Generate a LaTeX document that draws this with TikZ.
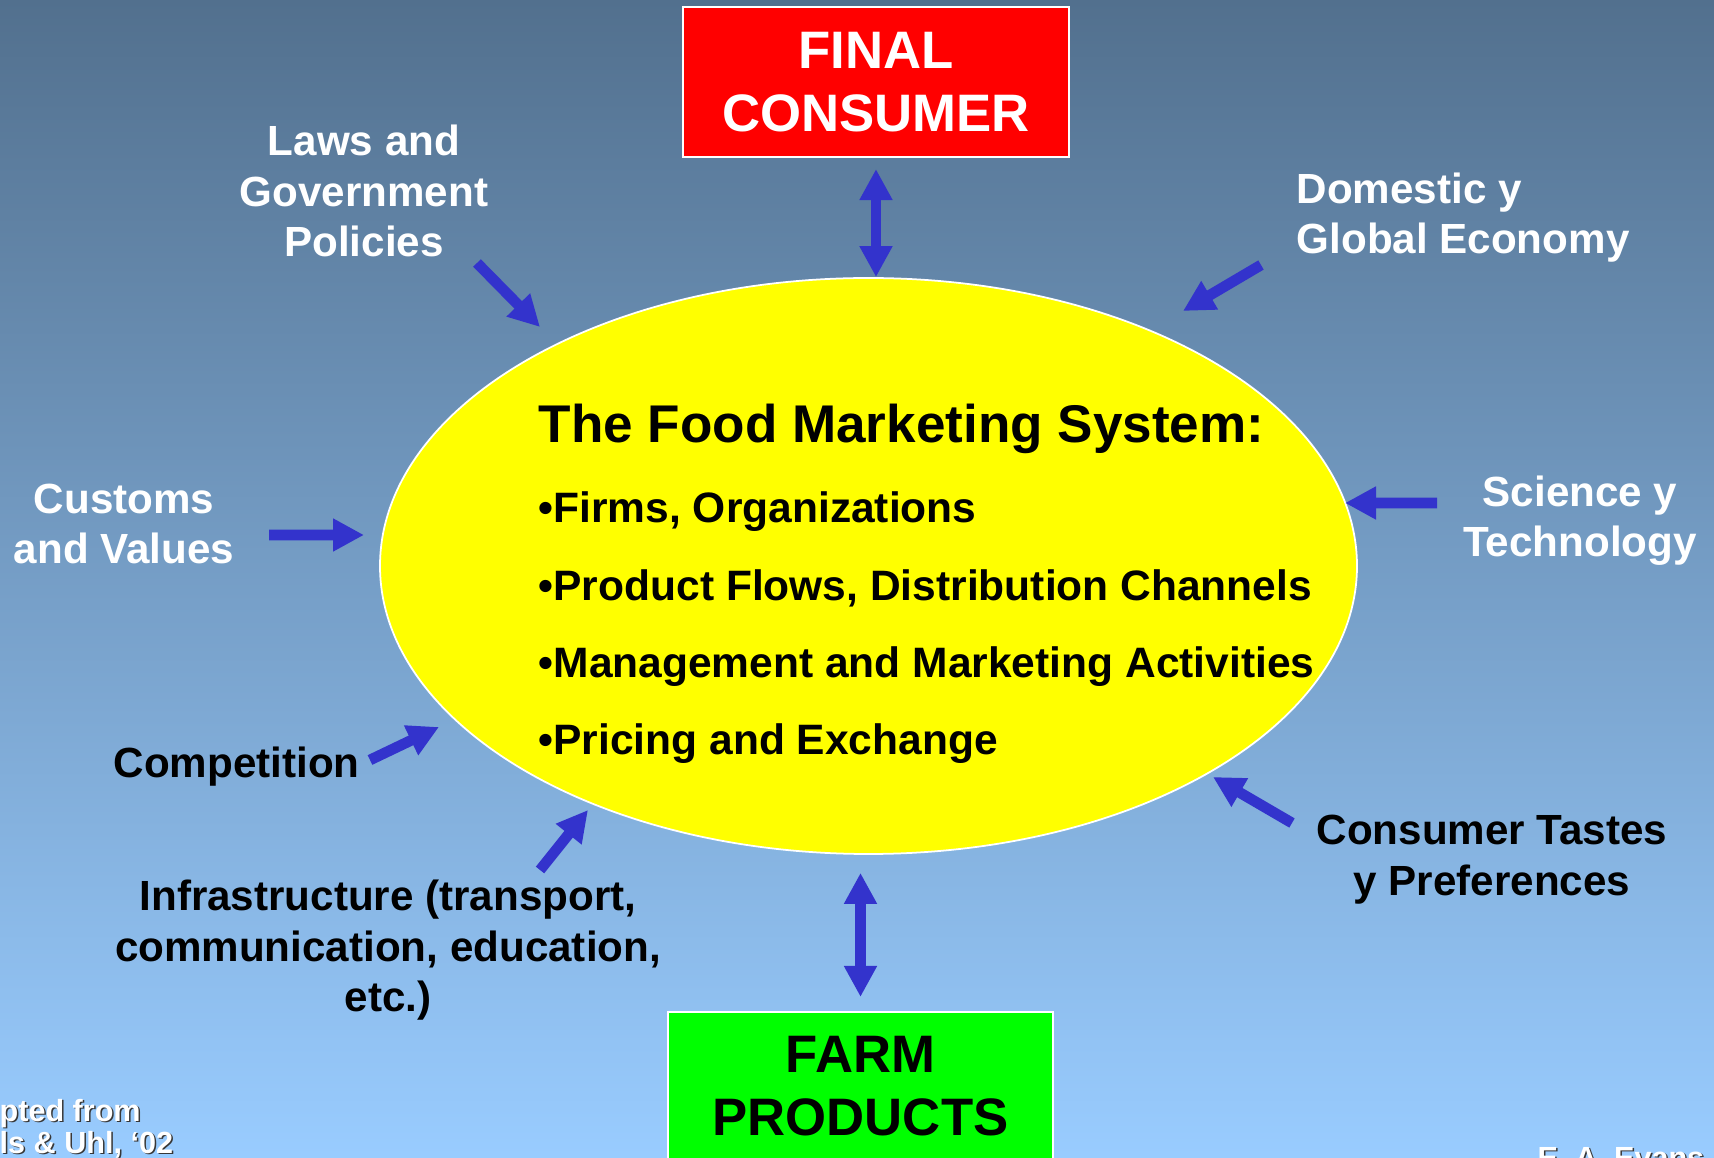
\documentclass[tikz,border=0pt]{standalone}
\usepackage{fontspec}
\setmainfont{Liberation Sans}
\usepackage{xcolor}
\definecolor{bgTop}{RGB}{82,112,142}
\definecolor{bgBottom}{RGB}{153,204,255}
\definecolor{colArrow}{RGB}{51,51,204}
\definecolor{colShadow}{RGB}{55,55,55}
\definecolor{colSystem}{RGB}{255,255,0}
\definecolor{colConsumer}{RGB}{255,0,0}
\definecolor{colFarm}{RGB}{0,255,0}
\usepackage{tikz}
\usetikzlibrary{arrows.meta, shapes.geometric}

\begin{document}
\begin{tikzpicture}[
		flow/.style={line width=1.07mm, draw=colArrow, -{Triangle[width=3.1mm,length=3.1mm]}},
		link/.style={line width=1.07mm, draw=colArrow, {Triangle[width=3.1mm,length=3.1mm]}-{Triangle[width=3.1mm,length=3.1mm]}},
		endbox/.style={draw=white, line width=0.6pt, minimum width=3.86cm, minimum height=1.5cm, inner sep=0pt, align=center, font=\fontsize{15}{17.9}\selectfont\bfseries},
		factor/.style={inner sep=0pt, align=center, anchor=base, font=\fontsize{12}{14.5}\selectfont\bfseries},
		sysline/.style={inner sep=0pt, anchor=base west, font=\fontsize{12.1}{14.5}\selectfont\bfseries},
		credit/.style={inner sep=0pt, anchor=base west, font=\fontsize{8.7}{10}\selectfont\bfseries},
	]
	\useasboundingbox (0,0) rectangle (17.14,11.57);
	\shade[top color=bgTop, bottom color=bgBottom] (0,0) rectangle (17.14,11.57);

	% central ellipse and its list
	\node[ellipse, draw=white, line width=0.5pt, fill=colSystem, minimum width=9.77cm, minimum height=5.76cm, inner sep=0pt] (sys) at (8.685,5.91) {};
	\node[sysline, font=\fontsize{15.1}{18}\selectfont\bfseries] (sysTitle) at (5.38,7.14) {The Food Marketing System:};
	\foreach \entry [count=\i] in {{Firms, Organizations}, {Product Flows, Distribution Channels}, {Management and Marketing Activities}, {Pricing and Exchange}}
		\node[sysline] (sysItem\i) at (5.38,{6.34-0.773*(\i-1)}) {•\entry};

	% ends of the chain
	\node[endbox, fill=colConsumer, text=white] (consumer) at (8.76,10.75) {FINAL\\CONSUMER};
	\node[endbox, fill=colFarm, text=black, minimum width=3.85cm, minimum height=1.49cm] (farm) at (8.605,0.705) {FARM\\PRODUCTS};
	\draw[link, shorten <=1.1mm] (consumer.south) -- (consumer.south |- sys.north);
	\draw[link, shorten <=1.4mm, shorten >=1.8mm] (farm.north) -- (farm.north |- sys.south);

	% outside forces (base = last line)
	\node[factor, text=white] (laws) at (3.64,9.00) {Laws and\\Government\\Policies};
	\node[factor, text=white, align=left, anchor=base west] (economy) at (12.96,9.03) {Domestic y\\Global Economy};
	\node[factor, text=white] (science) at (15.80,6.00) {Science y\\Technology};
	\node[factor, text=white] (customs) at (1.24,5.93) {Customs\\and Values};
	\node[factor, anchor=base west] (competition) at (1.13,3.79) {Competition};
	\node[factor] (infra) at (3.88,1.45) {Infrastructure (transport,\\communication, education,\\etc.)};
	\node[factor] (tastes) at (14.92,2.62) {Consumer Tastes\\y Preferences};

	\coordinate (lawsTail) at (4.77,8.94);
	\coordinate (economyTail) at (12.61,8.92);
	\coordinate (scienceTail) at (14.37,6.54);
	\coordinate (customsTail) at (2.69,6.22);
	\coordinate (competitionTail) at (3.70,3.97);
	\coordinate (infraTail) at (5.40,2.87);
	\coordinate (tastesTail) at (12.92,3.34);

	\draw[flow] (lawsTail) -- ([shift={(-3.285,2.39)}]sys.center);
	\draw[flow] (economyTail) -- ([shift={(3.145,2.55)}]sys.center);
	\draw[flow] (scienceTail) -- ([shift={(4.765,0.63)}]sys.center);
	\draw[flow] (customsTail) -- ([shift={(-5.045,0.31)}]sys.center);
	\draw[flow] (competitionTail) -- ([shift={(-4.295,-1.61)}]sys.center);
	\draw[flow] (infraTail) -- ([shift={(-2.805,-2.44)}]sys.center);
	\draw[flow] (tastesTail) -- ([shift={(3.445,-2.11)}]sys.center);

	% credits along the lower edge
	\node[credit, text=colShadow] (sourceShadowA) at (0.005,0.345) {pted from};
	\node[credit, text=white] (sourceA) at (-0.01,0.36) {pted from};
	\node[credit, text=colShadow] (sourceShadowB) at (0.005,0.025) {ls \& Uhl, `02};
	\node[credit, text=white] (sourceB) at (-0.01,0.04) {ls \& Uhl, `02};
	\node[credit, text=colShadow] (authorShadow) at (15.385,-0.125) {E. A. Evans};
	\node[credit, text=white] (author) at (15.37,-0.11) {E. A. Evans};
\end{tikzpicture}
\end{document}
